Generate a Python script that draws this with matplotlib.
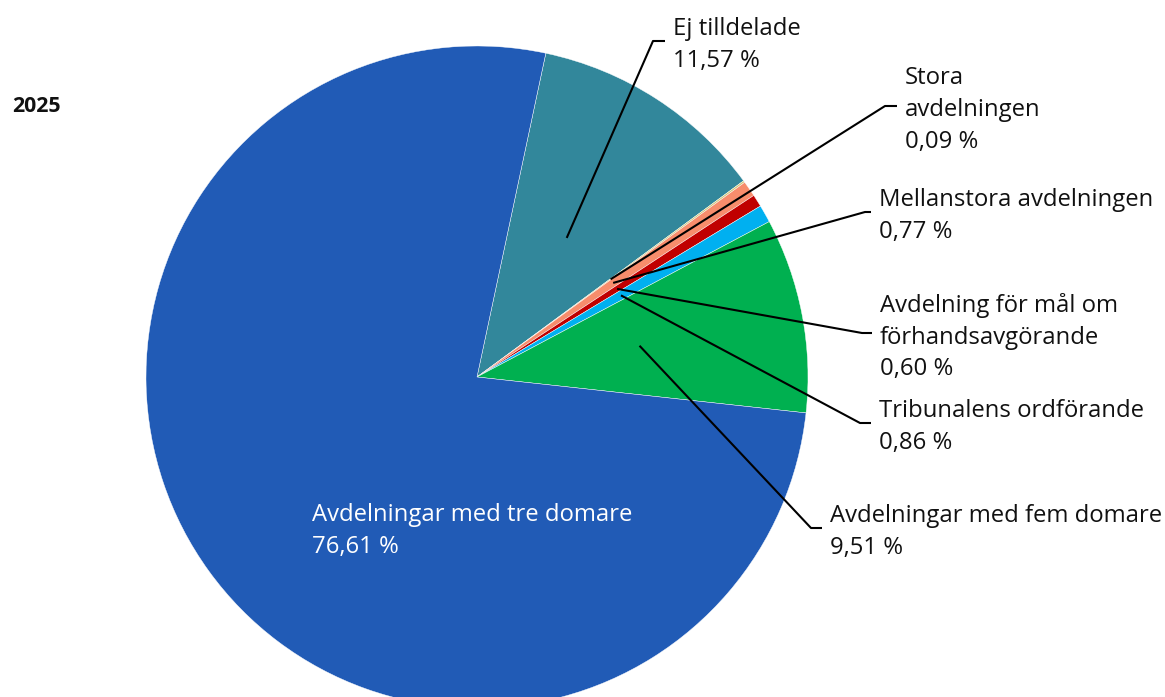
import matplotlib
matplotlib.use("Agg")
import matplotlib.pyplot as plt
import numpy as np

plt.rcParams['font.family'] = ['Open Sans', 'DejaVu Sans']

title = "2025"
labels = ["Ej tilldelade", "Stora\navdelningen", "Mellanstora avdelningen",
          "Avdelning för mål om\nförhandsavgörande", "Tribunalens ordförande",
          "Avdelningar med fem domare", "Avdelningar med tre domare"]
values = [11.57, 0.09, 0.77, 0.60, 0.86, 9.51, 76.61]
colors = ["#32879b", "#cfc87a", "#f78d6c", "#c00000", "#00b0f0", "#00b050", "#215bb6"]

W, H = 1165, 697
fig = plt.figure(figsize=(W / 100, H / 100), dpi=100)
ax = fig.add_axes([0, 0, 1, 1])

cx, cy, R = 477, H - 377, 331
wedges, _ = ax.pie(values, colors=colors, startangle=78, counterclock=False,
                   center=(cx, cy), radius=R, frame=True,
                   wedgeprops=dict(edgecolor="white", linewidth=0.3))
ax.set_xlim(0, W)
ax.set_ylim(0, H)
ax.set_aspect('equal')
ax.axis('off')

def fmt(v):
    return f"{v:.2f}".replace('.', ',') + " %"

# elbow (corner) positions in pixel coordinates (top-origin) and end of horizontal tick
elbows = [(653, 41, 665), (885, 106, 897), (865, 212, 871),
          (862, 333, 872), (860, 423, 871), (811, 528, 822)]
fs = 17.2
ls = 1.42
dy = 4
for i, (ex, ey, hx) in enumerate(elbows):
    w = wedges[i]
    mid = np.deg2rad((w.theta1 + w.theta2) / 2)
    ax_, ay_ = cx + 0.5 * R * np.cos(mid), cy + 0.5 * R * np.sin(mid)
    ax.plot([ax_, ex, hx], [ay_, H - ey, H - ey], color="black", lw=1.5,
            solid_capstyle='butt', zorder=5)
    ax.text(hx + 8, H - ey - dy, labels[i] + "\n" + fmt(values[i]), ha='left', va='center',
            fontsize=fs, linespacing=ls, color="#111111", zorder=6)

ax.text(312, H - 528 - 3, labels[6] + "\n" + fmt(values[6]), ha='left', va='center',
        fontsize=fs, linespacing=ls, color="white", zorder=6)

fig.text(12 / W, 1 - 106 / H, title, ha='left', va='center', fontsize=15.3,
         fontweight='bold', color="#111111")

fig.savefig("out.png", dpi=100)
